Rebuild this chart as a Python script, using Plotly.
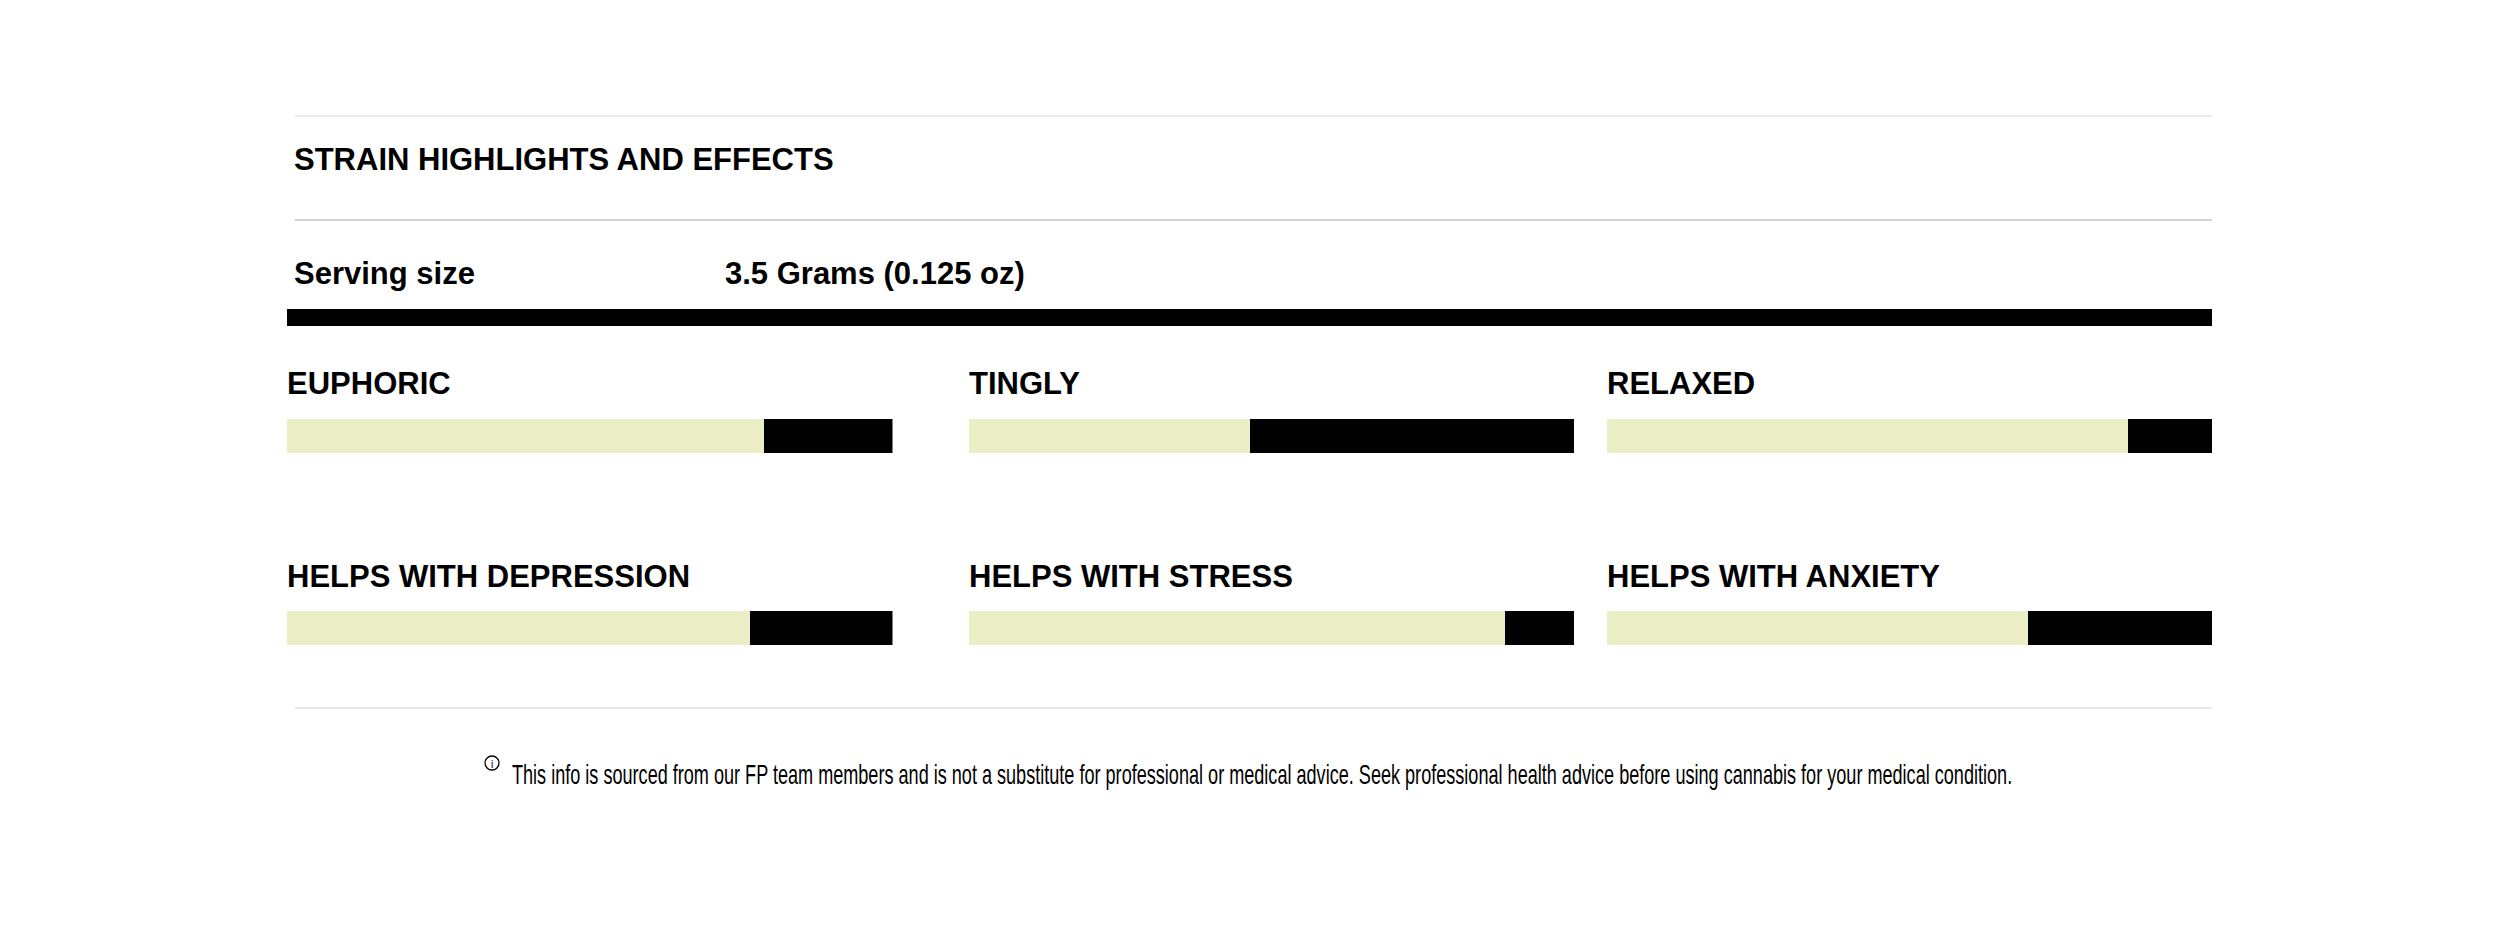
import plotly.graph_objects as go

W, H = 2500, 937
effects = ["EUPHORIC", "TINGLY", "RELAXED",
           "HELPS WITH DEPRESSION", "HELPS WITH STRESS", "HELPS WITH ANXIETY"]
filled = [78.8, 46.4, 86.1, 76.5, 88.5, 69.6]
remainder = [100 - v for v in filled]
title_text = "STRAIN HIGHLIGHTS AND EFFECTS"
serving_label = "Serving size"
serving_value = "3.5 Grams (0.125 oz)"
footnote = ("This info is sourced from our FP team members and is not a substitute for "
            "professional or medical advice. Seek professional health advice before using "
            "cannabis for your medical condition.")

col_px = [(287, 892.5), (968.5, 1574), (1607, 2212)]
row_px = [(419, 453), (611, 645)]
label_base = [394, 587]
BODY = "Liberation Sans"

def fx(p): return p / W
def fy(p): return 1 - p / H

fig = go.Figure()
layout = {}
annotations = []
for i, name in enumerate(effects):
    c, r = i % 3, i // 3
    n = "" if i == 0 else str(i + 1)
    fig.add_bar(x=[filled[i]], y=[name], orientation="h", marker=dict(color="#ECEFC6", line_width=0),
                xaxis="x" + n, yaxis="y" + n, name=name, showlegend=False)
    fig.add_bar(x=[remainder[i]], y=[name], orientation="h", marker=dict(color="#000000", line_width=0),
                xaxis="x" + n, yaxis="y" + n, name=name, showlegend=False)
    layout["xaxis" + n] = dict(domain=[fx(col_px[c][0]), fx(col_px[c][1])], range=[0, 100],
                               visible=False, anchor="y" + n, fixedrange=True)
    layout["yaxis" + n] = dict(domain=[fy(row_px[r][1]), fy(row_px[r][0])], visible=False,
                               anchor="x" + n, fixedrange=True)
    annotations.append(dict(text="<b>" + name + "</b>", x=fx(col_px[c][0]), y=fy(label_base[r] + 7),
                            xanchor="left", font=dict(family=BODY, size=31, color="#000")))

annotations += [
    dict(text="<b>" + title_text + "</b>", x=fx(294), y=fy(170 + 7), xanchor="left",
         font=dict(family=BODY, size=31, color="#000")),
    dict(text="<b>" + serving_label + "</b>", x=fx(294), y=fy(284 + 7), xanchor="left",
         font=dict(family=BODY, size=31, color="#000")),
    dict(text="<b>" + serving_value + "</b>", x=fx(725), y=fy(284 + 7), xanchor="left",
         font=dict(family=BODY, size=31, color="#000")),
    dict(text=footnote, x=fx(1261.5), y=fy(784 + 6), xanchor="center",
         font=dict(family=BODY, size=27, color="#000")),
    dict(text="i", x=fx(490.5), y=fy(770), xanchor="left", font=dict(family=BODY, size=10, color="#000")),
]
for a in annotations:
    a.update(xref="paper", yref="paper", yanchor="bottom", showarrow=False, borderpad=0, borderwidth=0)

def hline(y, x0, x1, color, w):
    return dict(type="line", xref="paper", yref="paper", x0=fx(x0), x1=fx(x1), y0=fy(y), y1=fy(y),
                line=dict(color=color, width=w), layer="below")

shapes = [
    hline(116, 295, 2212, "#E4E4E4", 1.5),
    hline(220, 295, 2212, "#C6C6C6", 1.5),
    hline(708, 295, 2212, "#E2E2E2", 1.5),
    dict(type="rect", xref="paper", yref="paper", x0=fx(287), x1=fx(2212), y0=fy(326), y1=fy(309),
         fillcolor="#000", line_width=0),
    dict(type="circle", xref="paper", yref="paper", x0=fx(485), x1=fx(499), y0=fy(770), y1=fy(756),
         fillcolor="rgba(0,0,0,0)", line=dict(color="#000", width=1.3)),
]

fig.update_layout(width=W, height=H, autosize=False, margin=dict(l=0, r=0, t=0, b=0, pad=0),
                  paper_bgcolor="#fff", plot_bgcolor="#fff", barmode="stack", bargap=0,
                  showlegend=False, annotations=annotations, shapes=shapes, **layout)
fig.write_html("out.html", config={"displayModeBar": False},
               post_script="""document.body.style.margin='0';
document.querySelectorAll('text.annotation-text').forEach(function(t){
  if (t.textContent.indexOf('This info') === 0) {
    var k = 1501 / t.getComputedTextLength();
    t.style.transformBox = 'fill-box';
    t.style.transformOrigin = 'center';
    t.style.transform = 'scaleX(' + k + ')';
  }
});""")
